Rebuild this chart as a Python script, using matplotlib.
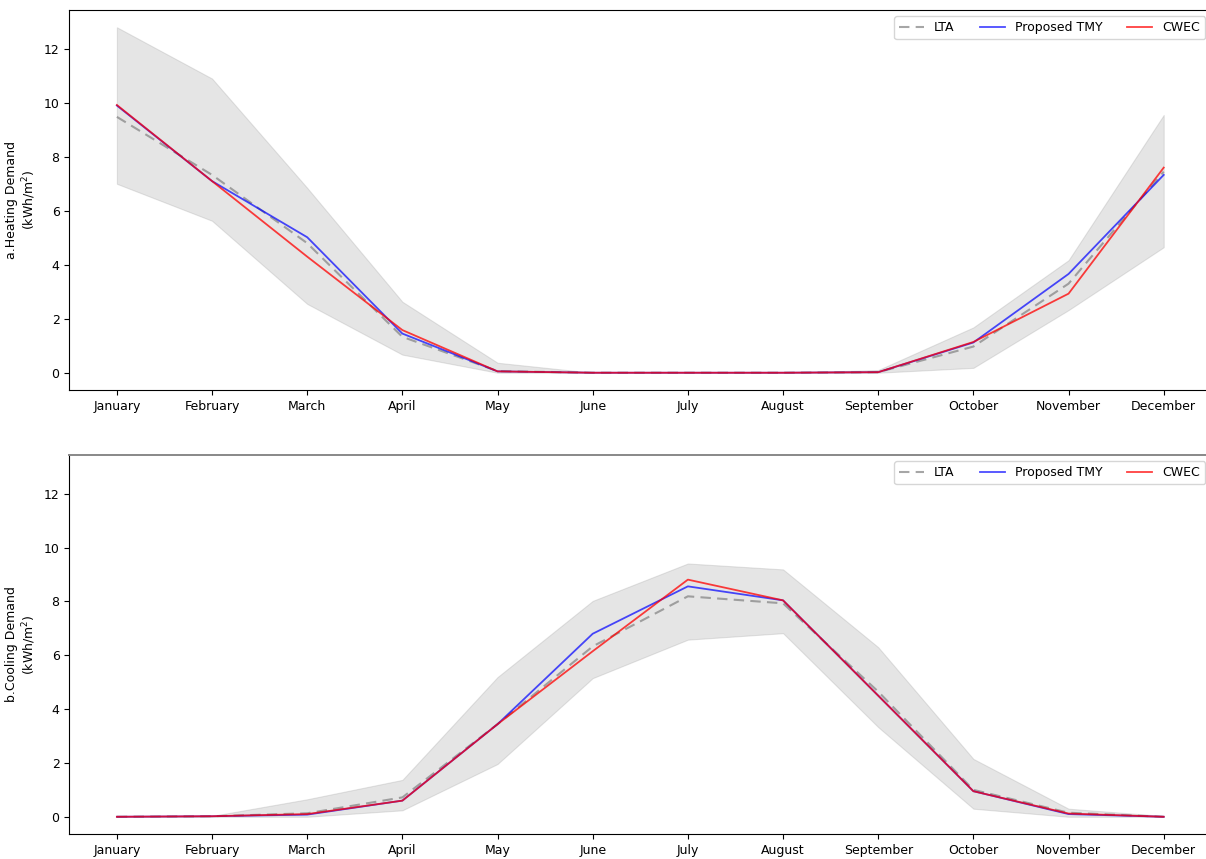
import matplotlib
matplotlib.use("Agg")
import matplotlib.pyplot as plt
import numpy as np

months = ["January", "February", "March", "April", "May", "June", "July",
          "August", "September", "October", "November", "December"]

# Heating demand (kWh/m2)
heat_upper = [12.8, 10.9, 6.85, 2.63, 0.37, 0.0, 0.0, 0.0, 0.1, 1.68, 4.17, 9.55]
heat_lower = [7.0, 5.63, 2.55, 0.67, 0.0, 0.0, 0.0, 0.0, 0.0, 0.18, 2.32, 4.65]
heat_lta = [9.48, 7.33, 4.8, 1.33, 0.06, 0.0, 0.0, 0.0, 0.02, 0.97, 3.3, 7.45]
heat_tmy = [9.9, 7.1, 5.02, 1.45, 0.05, 0.0, 0.0, 0.0, 0.02, 1.12, 3.66, 7.33]
heat_cwec = [9.92, 7.1, 4.3, 1.58, 0.05, 0.0, 0.0, 0.0, 0.02, 1.14, 2.93, 7.6]

# Cooling demand (kWh/m2)
cool_upper = [0.0, 0.03, 0.65, 1.37, 5.19, 8.02, 9.41, 9.19, 6.3, 2.15, 0.3, 0.03]
cool_lower = [0.0, 0.0, 0.0, 0.24, 1.96, 5.15, 6.58, 6.82, 3.33, 0.3, 0.0, 0.0]
cool_lta = [0.0, 0.02, 0.13, 0.72, 3.44, 6.33, 8.19, 7.93, 4.65, 1.0, 0.15, 0.0]
cool_tmy = [0.0, 0.02, 0.08, 0.6, 3.44, 6.8, 8.56, 8.04, 4.5, 0.95, 0.1, 0.0]
cool_cwec = [0.0, 0.02, 0.1, 0.6, 3.44, 6.15, 8.81, 8.04, 4.5, 0.95, 0.12, 0.0]

plt.rcParams["font.size"] = 9

W, H = 1206, 859
fig = plt.figure(figsize=(W / 100, H / 100), dpi=100)

left = 69.3 / W
width = (1211.3 - 69.3) / W
ax1 = fig.add_axes([left, (H - 390) / H, width, 380 / H])
ax2 = fig.add_axes([left, (H - 834) / H, width, 379 / H])

x = np.arange(len(months))

def draw(ax, upper, lower, lta, tmy, cwec, ylabel):
    ax.fill_between(x, lower, upper, color="gray", alpha=0.2, linewidth=0.8)
    ax.plot(x, lta, color="gray", linestyle=(0, (5, 3)), alpha=0.7, lw=1.5, label="LTA")
    ax.plot(x, tmy, color="blue", alpha=0.7, lw=1.3, label="Proposed TMY")
    ax.plot(x, cwec, color="red", alpha=0.75, lw=1.3, label="CWEC")
    ax.set_xticks(x)
    ax.set_xticklabels(months, fontsize=9)
    ax.set_xlim(-0.5, 11.5)
    ax.set_ylim(-0.64, 13.44)
    ax.set_yticks([0, 2, 4, 6, 8, 10, 12])
    ax.tick_params(labelsize=9)
    ax.set_ylabel(ylabel, fontsize=9)
    ax.legend(loc="upper right", ncol=3, fontsize=9, columnspacing=2.0)

draw(ax1, heat_upper, heat_lower, heat_lta, heat_tmy, heat_cwec,
     "a.Heating Demand\n(kWh/m$^2$)")
draw(ax2, cool_upper, cool_lower, cool_lta, cool_tmy, cool_cwec,
     "b.Cooling Demand\n(kWh/m$^2$)")
ax2.spines["top"].set_color("#888888")
ax2.spines["top"].set_linewidth(1.4)

fig.savefig("out.png", dpi=100)
